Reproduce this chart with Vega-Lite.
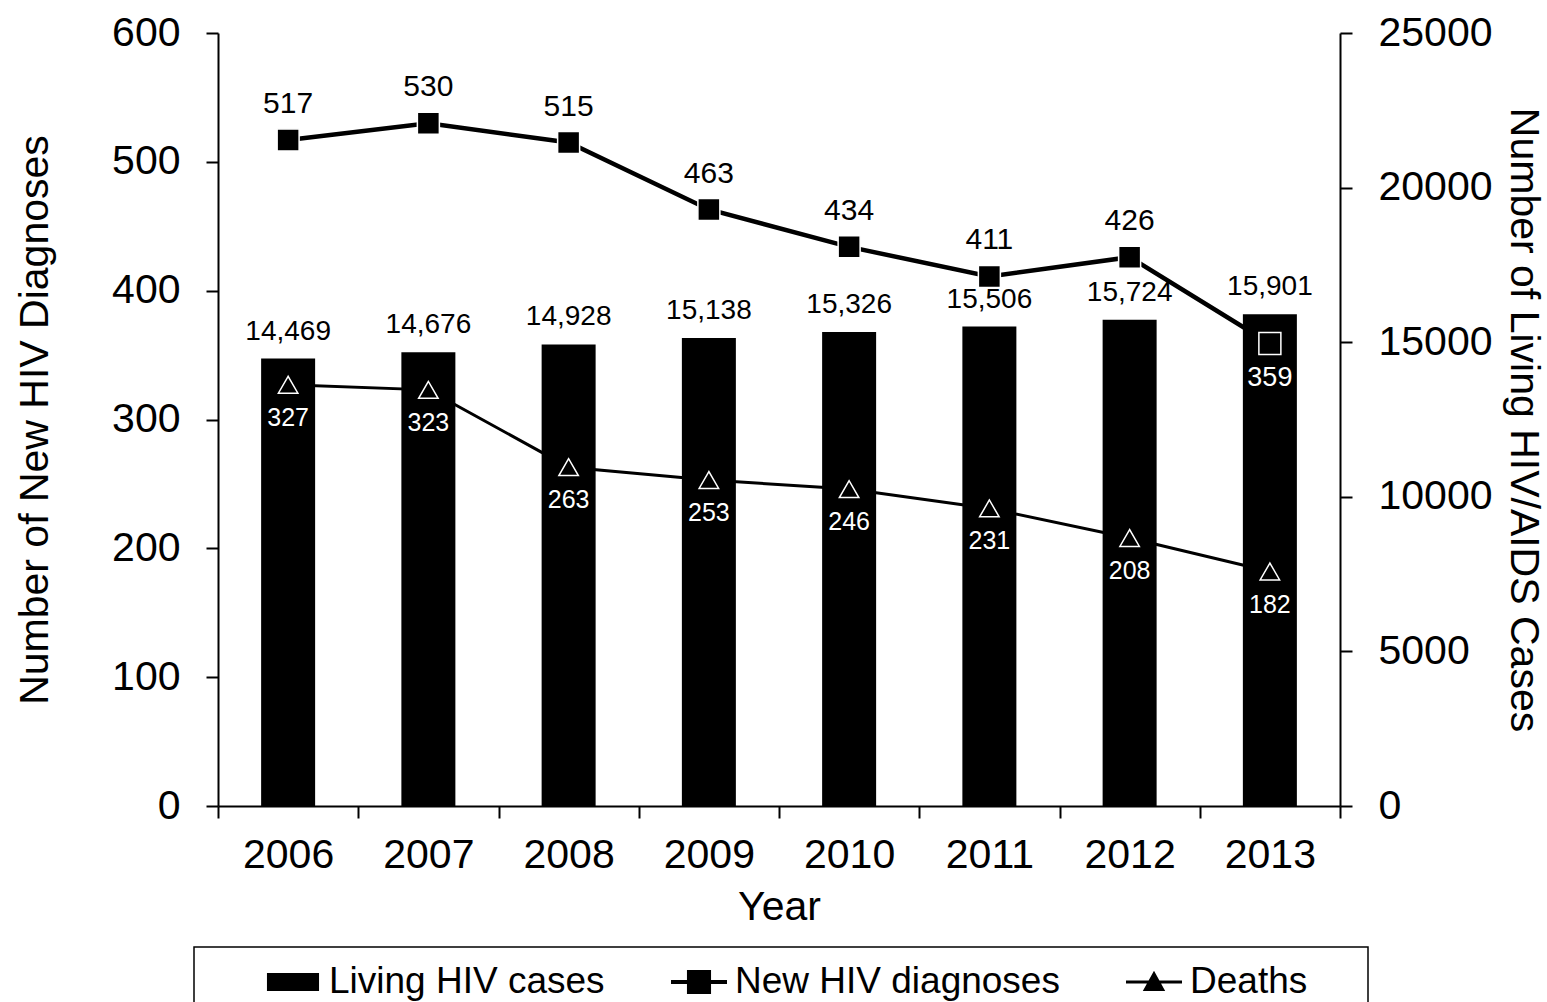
{
  "$schema": "https://vega.github.io/schema/vega-lite/v6.json",
  "width": 1122,
  "height": 773,
  "autosize": {"type": "none"},
  "padding": {"left": 218, "top": 33, "right": 207, "bottom": 196},
  "background": "white",
  "config": {
    "font": "Liberation Sans",
    "view": {"stroke": null},
    "axis": {
      "domainColor": "black",
      "domainWidth": 2,
      "tickColor": "black",
      "tickWidth": 2,
      "tickSize": 12,
      "labelColor": "black",
      "titleColor": "black",
      "grid": false,
      "labelFont": "Liberation Sans",
      "titleFont": "Liberation Sans",
      "titleFontWeight": "normal",
      "labelFontSize": 41,
      "titleFontSize": 41
    },
    "legend": {"strokeWidth": 1.5}
  },
  "datasets": {
    "living": [
      {"year": "2006", "cases": 14469},
      {"year": "2007", "cases": 14676},
      {"year": "2008", "cases": 14928},
      {"year": "2009", "cases": 15138},
      {"year": "2010", "cases": 15326},
      {"year": "2011", "cases": 15506},
      {"year": "2012", "cases": 15724},
      {"year": "2013", "cases": 15901}
    ],
    "rates": [
      {"year": "2006", "series": "New HIV diagnoses", "value": 517},
      {"year": "2007", "series": "New HIV diagnoses", "value": 530},
      {"year": "2008", "series": "New HIV diagnoses", "value": 515},
      {"year": "2009", "series": "New HIV diagnoses", "value": 463},
      {"year": "2010", "series": "New HIV diagnoses", "value": 434},
      {"year": "2011", "series": "New HIV diagnoses", "value": 411},
      {"year": "2012", "series": "New HIV diagnoses", "value": 426},
      {"year": "2013", "series": "New HIV diagnoses", "value": 359},
      {"year": "2006", "series": "Deaths", "value": 327},
      {"year": "2007", "series": "Deaths", "value": 323},
      {"year": "2008", "series": "Deaths", "value": 263},
      {"year": "2009", "series": "Deaths", "value": 253},
      {"year": "2010", "series": "Deaths", "value": 246},
      {"year": "2011", "series": "Deaths", "value": 231},
      {"year": "2012", "series": "Deaths", "value": 208},
      {"year": "2013", "series": "Deaths", "value": 182}
    ]
  },
  "encoding": {
    "x": {
      "field": "year",
      "type": "ordinal",
      "scale": {"paddingInner": 0, "paddingOuter": 0},
      "axis": {
        "title": "Year",
        "tickBand": "extent",
        "labelAngle": 0,
        "labelPadding": 17,
        "titlePadding": 12
      }
    }
  },
  "layer": [
    {
      "data": {"name": "living"},
      "encoding": {
        "y": {
          "field": "cases",
          "type": "quantitative",
          "scale": {"domain": [0, 25000], "nice": false},
          "axis": {
            "orient": "right",
            "values": [0, 5000, 10000, 15000, 20000, 25000],
            "format": "d",
            "title": "Number of Living HIV/AIDS Cases",
            "labelPadding": 26,
            "titlePadding": 9
          }
        }
      },
      "layer": [
        {"mark": {"type": "bar", "color": "black", "width": {"band": 0.385}}},
        {
          "mark": {"type": "text", "fontSize": 28, "dy": -19, "baseline": "alphabetic", "color": "black"},
          "encoding": {"text": {"field": "cases", "type": "quantitative", "format": ","}}
        }
      ]
    },
    {
      "data": {"name": "rates"},
      "encoding": {
        "y": {
          "field": "value",
          "type": "quantitative",
          "scale": {"domain": [0, 600], "nice": false},
          "axis": {
            "orient": "left",
            "values": [0, 100, 200, 300, 400, 500, 600],
            "title": "Number of New HIV Diagnoses",
            "labelPadding": 26,
            "titlePadding": 55
          }
        }
      },
      "layer": [
        {
          "transform": [{"filter": "datum.series === 'New HIV diagnoses'"}],
          "mark": {"type": "line", "color": "black", "strokeWidth": 4.5}
        },
        {
          "transform": [{"filter": "datum.series === 'Deaths'"}],
          "mark": {"type": "line", "color": "black", "strokeWidth": 3}
        },
        {
          "transform": [{"filter": "datum.series === 'New HIV diagnoses'"}],
          "mark": {"type": "point", "shape": "square", "filled": true, "fill": "black", "stroke": "white", "strokeWidth": 1.5, "size": 484, "opacity": 1}
        },
        {
          "transform": [{"filter": "datum.series === 'Deaths'"}],
          "mark": {"type": "point", "shape": "triangle-up", "filled": true, "fill": "black", "stroke": "white", "strokeWidth": 1.5, "size": 380, "opacity": 1}
        },
        {
          "transform": [{"filter": "datum.series === 'New HIV diagnoses' && datum.year !== '2013'"}],
          "mark": {"type": "text", "fontSize": 30, "dy": -27, "baseline": "alphabetic", "color": "black"},
          "encoding": {"text": {"field": "value", "type": "quantitative"}}
        },
        {
          "transform": [{"filter": "datum.series === 'New HIV diagnoses' && datum.year === '2013'"}],
          "mark": {"type": "text", "fontSize": 27, "dy": 35, "baseline": "middle", "color": "white"},
          "encoding": {"text": {"field": "value", "type": "quantitative"}}
        },
        {
          "transform": [{"filter": "datum.series === 'Deaths'"}],
          "mark": {"type": "text", "fontSize": 25, "dy": 33, "baseline": "middle", "color": "white"},
          "encoding": {"text": {"field": "value", "type": "quantitative"}}
        },
        {
          "mark": {"type": "point", "opacity": 0, "filled": true, "fill": "black"},
          "encoding": {
            "shape": {
              "field": "series",
              "type": "nominal",
              "scale": {
                "domain": ["Living HIV cases", "New HIV diagnoses", "Deaths"],
                "range": [
                  "M-0.93,-0.32H0.93V0.32H-0.93Z",
                  "M-1,-0.07H1V0.07H-1Z M-0.43,-0.43H0.43V0.43H-0.43Z",
                  "M-1,-0.055H1V0.055H-1Z M0,-0.4L0.4,0.32H-0.4Z"
                ]
              },
              "legend": {
                "orient": "none",
                "legendX": -24,
                "legendY": 914,
                "direction": "horizontal",
                "title": " ",
                "titleOrient": "left",
                "titleFontSize": 1,
                "titlePadding": 64,
                "padding": 6,
                "strokeColor": "black",
                "symbolSize": 3136,
                "symbolOpacity": 1,
                "labelFontSize": 37,
                "labelColor": "black",
                "labelOffset": 7,
                "labelLimit": 600,
                "columnPadding": 63,
                "labelExpr": "datum.label == 'Deaths' ? 'Deaths\u2800\u2800' : datum.label"
              }
            }
          }
        }
      ]
    }
  ],
  "resolve": {"scale": {"y": "independent"}}
}
